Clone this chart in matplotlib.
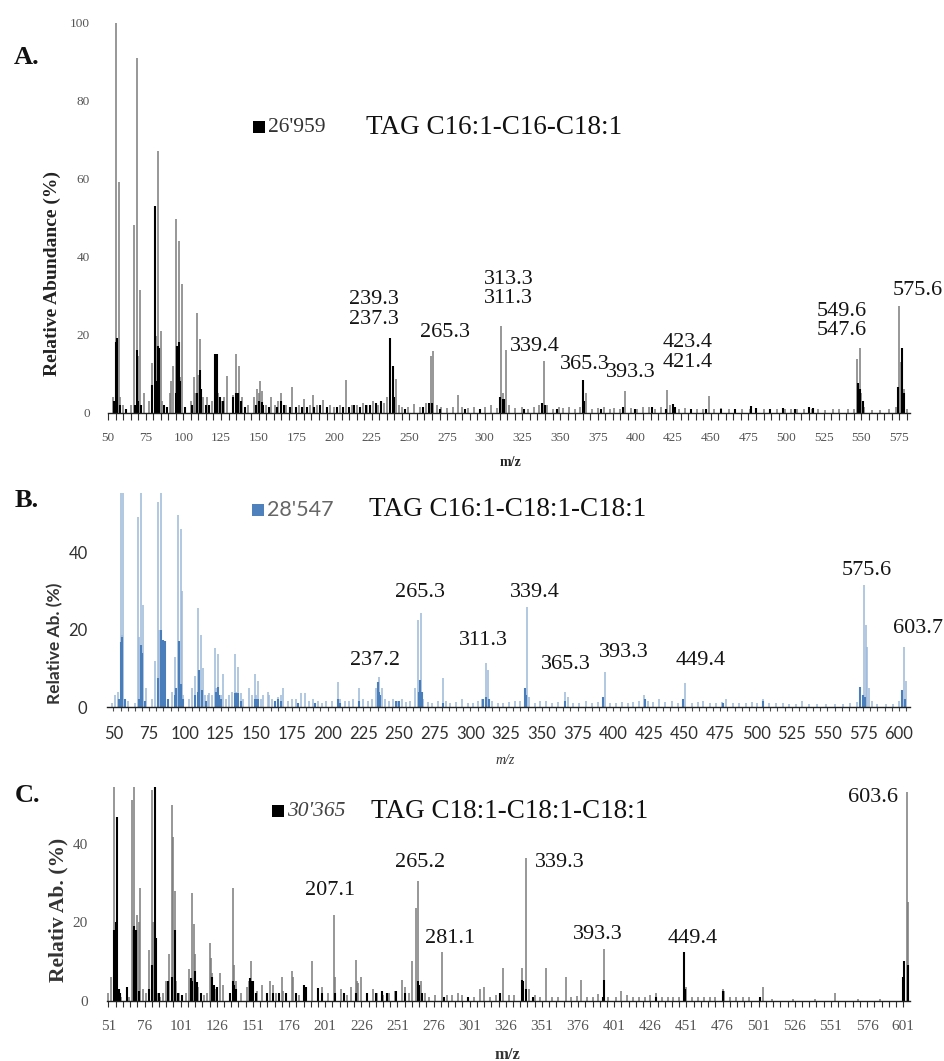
import numpy as np
import matplotlib
matplotlib.use("Agg")
import matplotlib.pyplot as plt
from matplotlib.patches import Rectangle
from matplotlib.ticker import FixedLocator

# ---------------- data (m/z, relative abundance %) ----------------
# Panel A: TAG C16:1-C16-C18:1, scan 26'959
a_gray = [(53, 4), (55, 100), (57, 59), (58, 4), (60, 2), (65, 2), (67, 48), (69, 91), (70, 14.5),
          (71, 31.5), (74, 5), (77, 3), (79, 12.8), (82, 19.5), (83, 67), (85, 21), (86, 3), (91, 5),
          (92, 8), (93, 12), (95, 49.5), (96, 5), (97, 44), (98, 9), (99, 33), (105, 3), (107, 9),
          (108, 5), (109, 25.6), (110, 9.5), (111, 18.8), (112, 3), (113, 4), (116, 4), (119, 3),
          (121, 6), (123, 5), (125, 3), (127, 4), (129, 9.3), (133, 4.5), (135, 14.9), (137, 12),
          (139, 4), (143, 2), (147, 4), (149, 6), (150, 5), (151, 8), (152, 5.5), (155, 2), (158, 4),
          (161, 2), (163, 3), (165, 5), (168, 2), (172, 6.5), (177, 2), (180, 3.5), (184, 2),
          (186, 4.5), (189, 2), (193, 3.3), (197, 2), (200, 1.5), (204, 2), (208, 8.3), (212, 2),
          (215, 2), (219, 2.5), (222, 2), (226, 3), (229, 2), (233, 2.5), (235, 4), (241, 8.5),
          (243, 2), (245, 1.5), (249, 1.5), (253, 2.3), (257, 1.5), (261, 2.5), (264.2, 14.4),
          (265.6, 15.7), (268, 2), (271, 1.5), (275, 1.2), (279, 1.5), (282, 4.4), (285, 1.5),
          (289, 1.2), (293, 1.5), (297, 1), (300, 1.5), (304, 2), (308, 1.2), (311, 22.1), (312, 5),
          (314, 16), (316, 2), (320, 1.2), (325, 1.5), (329, 1), (333, 1.5), (336, 2), (339, 13.3),
          (341, 2), (345, 1), (349, 1.5), (352, 1.2), (356, 1.5), (360, 1), (363, 1.5), (367, 5),
          (371, 1), (375, 1.2), (379, 1.5), (383, 1), (386, 1.2), (390, 1), (393, 5.5), (397, 1.2),
          (401, 1), (405, 1.5), (409, 1.5), (413, 1), (417, 1.5), (421, 5.7), (423, 2), (429, 1),
          (433, 1.2), (437, 1), (441, 1), (445, 1), (449, 4.2), (452, 1), (457, 1.2), (462, 1),
          (466, 1), (471, 1), (476, 1), (480, 1.2), (485, 1), (489, 1), (494, 1), (499, 1), (503, 1),
          (507, 0.8), (512, 1), (517, 0.8), (521, 0.8), (526, 0.7), (531, 0.8), (535, 0.8),
          (541, 0.8), (545, 1), (547, 13.6), (549, 16.6), (550, 5), (552, 1.5), (557, 0.7),
          (562, 0.7), (568, 0.8), (573, 1.5), (575, 27.3), (576, 13), (578, 6), (580, 1)]
a_black = [(54, 3), (55, 18), (56, 19), (58, 2), (62, 1), (68, 2), (69, 16), (70, 3), (72, 2),
           (79, 7), (81, 53), (82, 8), (83, 17), (84, 16.5), (87, 2), (89, 1.5), (95, 5), (96, 17),
           (97, 18), (98, 8), (101, 1.5), (106, 2), (109, 5), (111, 11), (112, 6), (115, 2),
           (117, 2), (121, 15), (122, 14.9), (124, 4), (126, 3), (133, 4), (135, 5), (136, 5),
           (138, 3), (141, 1.5), (148, 2), (150, 3), (152, 2.8), (153, 2), (157, 1.5), (162, 1.5),
           (165, 3), (167, 2), (171, 1.5), (175, 1.5), (179, 1.5), (182, 1.5), (187, 1.5), (191, 2),
           (195, 1.5), (202, 1.5), (206, 1.5), (210, 1.5), (213, 2), (217, 1.5), (221, 2), (224, 2),
           (228, 2.5), (231, 3), (237, 19.1), (239, 12), (240, 4), (247, 1), (259, 1.5),
           (263, 2.5), (265, 2.5), (270, 1), (287, 1), (297, 1), (310, 4), (312, 3.5), (313, 3.5),
           (326, 1), (338, 2.5), (340, 2), (348, 1), (365, 8.3), (366, 3), (377, 1), (392, 1.5),
           (400, 1), (411, 1.5), (420, 1), (425, 2.3), (426, 1.5), (437, 1), (447, 1), (457, 1),
           (466, 1), (477, 1.7), (480, 1.2), (489, 1), (498, 1.2), (506, 1), (515, 1.5), (518, 1.2),
           (548, 7.6), (549, 6), (551, 3), (574, 6.5), (577, 16.6), (578, 5)]

# Panel B: TAG C16:1-C18:1-C18:1, scan 28'547
b_light = [(49, 1), (51, 3), (53, 4), (55, 100), (56, 18.5), (57, 62), (58, 2), (60, 1.5), (65, 1),
           (67, 49.2), (68, 18), (69, 92), (70, 14), (71, 26.4), (73, 5), (77, 2), (79, 12),
           (81, 53), (82, 20), (83, 68), (84, 17), (86, 4), (91, 4), (93, 13), (94, 5), (95, 49.6),
           (96, 16), (97, 46), (98, 30), (99, 3), (103, 2), (105, 5), (107, 8), (109, 25.5),
           (110, 9), (111, 18.5), (113, 10), (114, 3), (116, 3), (117, 3.5), (119, 3), (121, 15.2),
           (122, 5), (123, 13.8), (125, 3), (127, 8.5), (129, 2), (131, 3), (133, 4), (135, 13.8),
           (136, 4), (137, 10.3), (139, 3.7), (141, 2), (145, 5), (147, 3), (149, 8.5), (150, 3),
           (151, 6.7), (153, 2), (155, 3), (158, 4), (159, 3), (161, 2), (163, 1.5), (165, 2.5),
           (167, 3), (169, 5), (172, 1.5), (175, 2), (178, 2), (181, 3.5), (184, 3.5), (187, 1.5),
           (190, 2), (193, 1.5), (196, 1), (199, 1.5), (203, 1.5), (207, 6.5), (209, 2), (212, 1.5),
           (215, 1.5), (218, 2), (222, 4.8), (225, 2), (228, 1.5), (231, 2), (234, 5), (236, 7.8),
           (238, 5), (240, 2), (243, 1.5), (246, 2), (249, 1.5), (252, 2), (255, 1.2), (258, 1.5),
           (261, 5), (263.4, 22.5), (265.3, 24.2), (267, 2), (270, 1.2), (273, 1), (277, 1.5),
           (280.5, 7.4), (283, 1.5), (286, 1), (290, 1.2), (294, 2), (298, 1), (302, 1), (305, 1.5),
           (308, 2), (310.8, 11.3), (312.5, 9.6), (315, 1.5), (319, 1), (323, 1), (327, 1.2),
           (331, 1.5), (335, 1.5), (339.4, 25.9), (341, 2.5), (345, 1), (349, 1.5), (353, 1.5),
           (357, 1), (361, 1.2), (366, 4), (368, 2.5), (372, 1), (376, 1), (381, 1.5), (385, 1),
           (389, 1.2), (394, 9.1), (398, 1), (402, 1), (406, 1.2), (410, 1), (414, 1.2), (418, 1.5),
           (421.5, 3.1), (424, 1.5), (428, 1.2), (432, 2), (436, 1.2), (441, 1.5), (445, 1),
           (450, 6.3), (455, 1), (459, 1.2), (463, 1.5), (468, 1), (472, 1), (476, 1.2), (479, 2),
           (484, 1), (488, 1), (493, 1), (497, 1.2), (501, 1), (505, 2), (509, 1), (514, 1),
           (519, 1), (523, 0.8), (528, 0.8), (532, 1.5), (537, 0.7), (543, 0.7), (549, 0.7),
           (555, 0.7), (561, 0.7), (566, 1), (571, 1.2), (573, 4), (575.6, 31.5), (577, 21.2),
           (578, 15.6), (579, 5), (581, 1.5), (585, 0.7), (591, 0.7), (596, 0.8), (600, 1.5),
           (603.7, 15.6), (605, 6.6)]
b_dark = [(54, 2), (55, 16.9), (56, 18), (58, 2), (68, 2), (69, 16), (70, 14), (72, 1.5), (81, 7.5),
          (83, 20), (84, 16), (85, 17.4), (86, 17), (88, 2), (93, 3), (94, 5), (96, 17), (97, 6),
          (99, 2), (107, 3), (109, 4), (110, 9.5), (112, 4.5), (115, 1.5), (122, 4), (123, 5.2),
          (124, 3), (125, 2), (135, 3.7), (136, 3.5), (137, 3.7), (139, 1.5), (149, 2), (150, 2),
          (151, 2), (163, 1.5), (165, 2), (167, 1.5), (179, 1), (191, 1), (207, 2), (209, 1),
          (222, 1.5), (235, 6.5), (236, 4), (237, 3), (248, 1.5), (250, 1.5), (264, 4), (265, 7),
          (266, 4), (281, 1), (309, 2), (311, 2.5), (313, 2), (338, 5), (339, 3), (366, 1.5),
          (393, 2.5), (422, 2), (449, 2), (477, 1), (505, 1.5), (573, 5.2), (575, 3), (576, 2.5),
          (602, 4.4), (604, 2)]

# Panel C: TAG C18:1-C18:1-C18:1, scan 30'365
c_gray = [(51, 2), (53, 5.9), (55, 100), (56, 3), (58, 2.5), (60, 1), (65, 1), (67, 51.4), (68, 18),
          (69, 90), (70, 3), (71, 22), (72, 20), (73, 28.8), (75, 3), (77, 2), (79, 13), (81, 54),
          (82, 20), (85, 2), (87, 1), (89, 2), (91, 5), (93, 11.8), (95, 50), (96, 42), (97, 28),
          (98, 5), (100, 2), (105, 2), (107, 8), (109, 27.5), (110, 19.5), (111, 12), (113, 3.5),
          (115, 2), (117, 1.5), (119, 2), (121, 14.7), (122, 10.8), (123, 7), (125, 3), (128, 7),
          (130, 4), (135, 2), (137, 28.8), (138, 9), (139, 5), (143, 2), (147, 3.5), (148, 5),
          (150, 10), (151, 5), (154, 2.5), (157, 4), (163, 5), (165, 4), (167, 2), (171, 6),
          (172, 2.5), (178, 7.5), (179, 6), (183, 1.5), (186, 2), (191.7, 10), (196, 2), (199, 3.5),
          (203, 2), (207, 21.9), (208, 6), (212, 3), (216, 1.5), (219, 3.5), (222, 10.4), (223, 5),
          (224, 4.5), (226, 6), (230, 1.5), (234, 3), (237, 2), (241, 1.5), (245, 2), (249, 2.5),
          (254, 5.3), (256, 3.5), (259, 2), (261, 10), (264, 23.6), (265.5, 30.5), (267, 5),
          (270, 2), (273, 1), (277, 1.5), (282, 12.3), (285, 1.5), (289, 1.5), (293, 2), (296, 1.5),
          (300, 1), (304, 1), (308, 3), (311, 3.5), (315, 1), (319, 1.5), (324, 8.3), (328, 1.5),
          (332, 1.5), (337, 8.3), (340, 36.5), (342, 3), (346, 1.5), (350, 1), (354, 8.3),
          (358, 1), (362, 1), (367.5, 6), (371, 1), (375, 1.2), (378, 5.3), (382, 1), (386, 1),
          (390, 1.7), (394, 13.1), (397, 1), (402, 1), (406, 2.5), (410, 1.5), (414, 1), (418, 1),
          (422, 1), (426, 1.5), (430, 2), (434, 1), (438, 0.8), (442, 1), (446, 1), (451, 3.5),
          (455, 0.8), (459, 1), (463, 1), (467, 0.8), (471, 1), (476, 3), (477, 2.5), (481, 1),
          (485, 1), (490, 0.8), (494, 0.8), (504, 3.5), (510, 0.5), (525, 0.5), (540, 0.5),
          (553.8, 1.8), (570, 0.5), (585, 0.5), (601, 5.3), (603.5, 53.5), (604.6, 25.3)]
c_black = [(55, 18), (56, 20), (57, 47), (58, 3), (59, 2), (64, 3.5), (69, 19), (70, 18), (72, 2.5),
           (79, 3), (81, 9), (83, 60), (84, 16), (86, 2), (92, 5), (95, 6), (97, 18), (99, 2),
           (102, 1.5), (108, 5.8), (109, 5), (111, 7.5), (112, 4.8), (115, 2), (123, 6), (124, 4),
           (126, 3.5), (135, 2), (137, 5), (138, 4), (139, 3), (149, 5.7), (150, 5), (151, 5),
           (153, 2), (161, 2), (165, 2), (169, 2), (174, 2), (181, 2), (186, 4), (188, 3.5),
           (196, 3.2), (199, 2), (208, 2), (214, 2), (222, 2), (230, 2), (236, 2), (240, 2.5),
           (244, 2), (250, 2.5), (256, 2), (265, 5), (266, 4), (268, 2), (283, 0.8), (300, 1),
           (322, 1.8), (337, 5.3), (338, 5), (340, 3), (345, 1), (393, 1), (394, 5.3), (430, 1),
           (449.4, 12.3), (450, 3), (476, 2.5), (502, 1), (601, 6), (601.8, 10), (604.5, 9)]

# peak labels: (text, m/z of label centre, height of label centre)
a_labels = [("239.3\n237.3", 226.3, 26.4), ("265.3", 273.4, 20.5), ("313.3\n311.3", 316.0, 31.7),
            ("339.4", 333.2, 16.9), ("365.3", 366.4, 12.3), ("393.3", 397.0, 10.2),
            ("423.4\n421.4", 434.8, 15.4), ("549.6\n547.6", 537.0, 23.5), ("575.6", 587.5, 31.3)]
b_labels = [("237.2", 233.2, 12.1), ("265.3", 264.7, 29.5), ("311.3", 308.8, 17.3),
            ("339.4", 345.2, 29.7), ("365.3", 367.0, 10.9), ("393.3", 407.6, 14.0),
            ("449.4", 461.5, 12.1), ("575.6", 577.7, 35.4), ("603.7", 613.4, 20.4)]
c_labels = [("207.1", 204.4, 28.3), ("265.2", 266.7, 35.3), ("281.1", 287.4, 15.8),
            ("339.3", 363.5, 35.3), ("393.3", 389.8, 16.8), ("449.4", 455.6, 16.0),
            ("603.6", 580.0, 51.9)]

W, H = 944, 1061
SERIF = "Liberation Serif"
SANS = "Lato"


def fx(px):
    return px / W


def fy(py):
    return 1 - py / H


def add_axes(left, top, right, bottom):
    return fig.add_axes([fx(left), fy(bottom), (right - left) / W, (bottom - top) / H])


def draw_spectrum(ax, light, dark, light_color, dark_color):
    lm, li = np.array(light).T
    dm, di = np.array(dark).T
    ax.vlines(lm, 0, li, colors=light_color, linewidth=1.1)
    ax.vlines(dm, 0, di, colors=dark_color, linewidth=1.5)
    for side in ["left", "right", "top"]:
        ax.spines[side].set_visible(False)
    ax.spines["bottom"].set_linewidth(1.0)
    ax.spines["bottom"].set_color("#202020")
    ax.set_facecolor("none")


def peak_labels(ax, labels, size=16):
    for txt, x, y in labels:
        ax.text(x, y, txt, ha="center", va="center", fontsize=size, family=SERIF,
                color="#151515", linespacing=1.05, clip_on=False)


fig = plt.figure(figsize=(W / 100, H / 100), dpi=100)

# ---------------- Panel A ----------------
axA = add_axes(108, 22.5, 910, 412.5)
draw_spectrum(axA, a_gray, a_black, "#7a7a7a", "#000000")
axA.set_xlim(50, 582.2)
axA.set_ylim(0, 100)
axA.set_yticks([0, 20, 40, 60, 80, 100])
axA.set_xticks(np.arange(50, 576, 25))
axA.xaxis.set_minor_locator(FixedLocator(np.arange(50, 582, 5)))
axA.tick_params(axis="y", length=0, pad=13, labelsize=9.5, labelcolor="#555555")
axA.tick_params(axis="x", which="both", length=5, width=0.8, color="#303030", direction="out")
axA.tick_params(axis="x", pad=9, labelsize=9.5, labelcolor="#555555")
for lab in axA.get_xticklabels() + axA.get_yticklabels():
    lab.set_family(SERIF)
peak_labels(axA, a_labels)

# ---------------- Panel B ----------------
axB = add_axes(107, 493, 910, 707)
draw_spectrum(axB, b_light, b_dark, "#9db8d9", "#4a7ebb")
axB.set_xlim(45.5, 607.8)
axB.set_ylim(0, 55.3)
axB.set_yticks([0, 20, 40])
axB.set_xticks(np.arange(50, 601, 25))
axB.xaxis.set_minor_locator(FixedLocator(np.arange(50, 606, 5)))
axB.tick_params(axis="y", length=0, pad=14, labelsize=12, labelcolor="#303030")
axB.tick_params(axis="x", which="both", length=3, width=0.8, color="#505050", direction="out")
axB.tick_params(axis="x", pad=11, labelsize=12, labelcolor="#303030")
for lab in axB.get_xticklabels() + axB.get_yticklabels():
    lab.set_family(SANS)
peak_labels(axB, b_labels)

# ---------------- Panel C ----------------
axC = add_axes(107, 787, 910.4, 1000.5)
draw_spectrum(axC, c_gray, c_black, "#7a7a7a", "#000000")
axC.set_xlim(50, 606)
axC.set_ylim(0, 54.7)
axC.set_yticks([0, 20, 40])
axC.set_xticks(np.arange(51, 602, 25))
axC.xaxis.set_minor_locator(FixedLocator(np.arange(51, 606, 5)))
axC.tick_params(axis="y", length=0, pad=14, labelsize=11, labelcolor="#555555")
axC.tick_params(axis="x", which="both", length=4, width=0.8, color="#303030", direction="out")
axC.tick_params(axis="x", pad=10, labelsize=11, labelcolor="#555555")
for lab in axC.get_xticklabels() + axC.get_yticklabels():
    lab.set_family(SERIF)
peak_labels(axC, c_labels)

# ---------------- panel letters, axis titles, compound tags ----------------
for letter, px, py in [("A.", 27, 58), ("B.", 27, 500), ("C.", 27, 795)]:
    fig.text(fx(px), fy(py), letter, ha="center", va="center", fontsize=19,
             fontweight="bold", family=SERIF, color="#111111")

fig.text(fx(52), fy(274), "Relative Abundance (%)", rotation=90, ha="center", va="center",
         fontsize=14, fontweight="bold", family=SERIF, color="#222222")
fig.text(fx(55), fy(643), "Relative Ab. (%)", rotation=90, ha="center", va="center",
         fontsize=12.5, fontweight="bold", family=SANS, color="#333333")
fig.text(fx(58), fy(910), "Relativ Ab. (%)", rotation=90, ha="center", va="center",
         fontsize=15.5, fontweight="bold", family=SERIF, color="#333333")

fig.text(fx(510), fy(462), "m/z", ha="center", va="center", fontsize=10,
         fontweight="bold", family=SERIF, color="#222222")
fig.text(fx(505), fy(761), "m/z", ha="center", va="center", fontsize=10,
         style="italic", family=SERIF, color="#333333")
fig.text(fx(507), fy(1055), "m/z", ha="center", va="center", fontsize=12,
         fontweight="bold", family=SERIF, color="#333333")

# legend-like tags: coloured square + scan number + TAG composition
tags = [(253, 127, "#000000", "26'959", dict(family=SERIF, color="#333333"), "TAG C16:1-C16-C18:1", 366),
        (252, 510, "#4f81bd", "28'547", dict(family=SANS, color="#666666"), "TAG C16:1-C18:1-C18:1", 369),
        (272, 811, "#000000", "30'365", dict(family=SERIF, color="#444444", style="italic"),
         "TAG C18:1-C18:1-C18:1", 371)]
for sx, sy, scol, scan, scan_style, tag, tx in tags:
    fig.add_artist(Rectangle((fx(sx), fy(sy + 6)), 12 / W, 12 / H, transform=fig.transFigure,
                             facecolor=scol, edgecolor="none"))
    fig.text(fx(sx + 15), fy(sy), scan, ha="left", va="center", fontsize=15.5, **scan_style)
    fig.text(fx(tx), fy(sy), tag, ha="left", va="center", fontsize=19.5, family=SERIF,
             color="#111111")

fig.savefig("out.png", dpi=100)
plt.close(fig)
